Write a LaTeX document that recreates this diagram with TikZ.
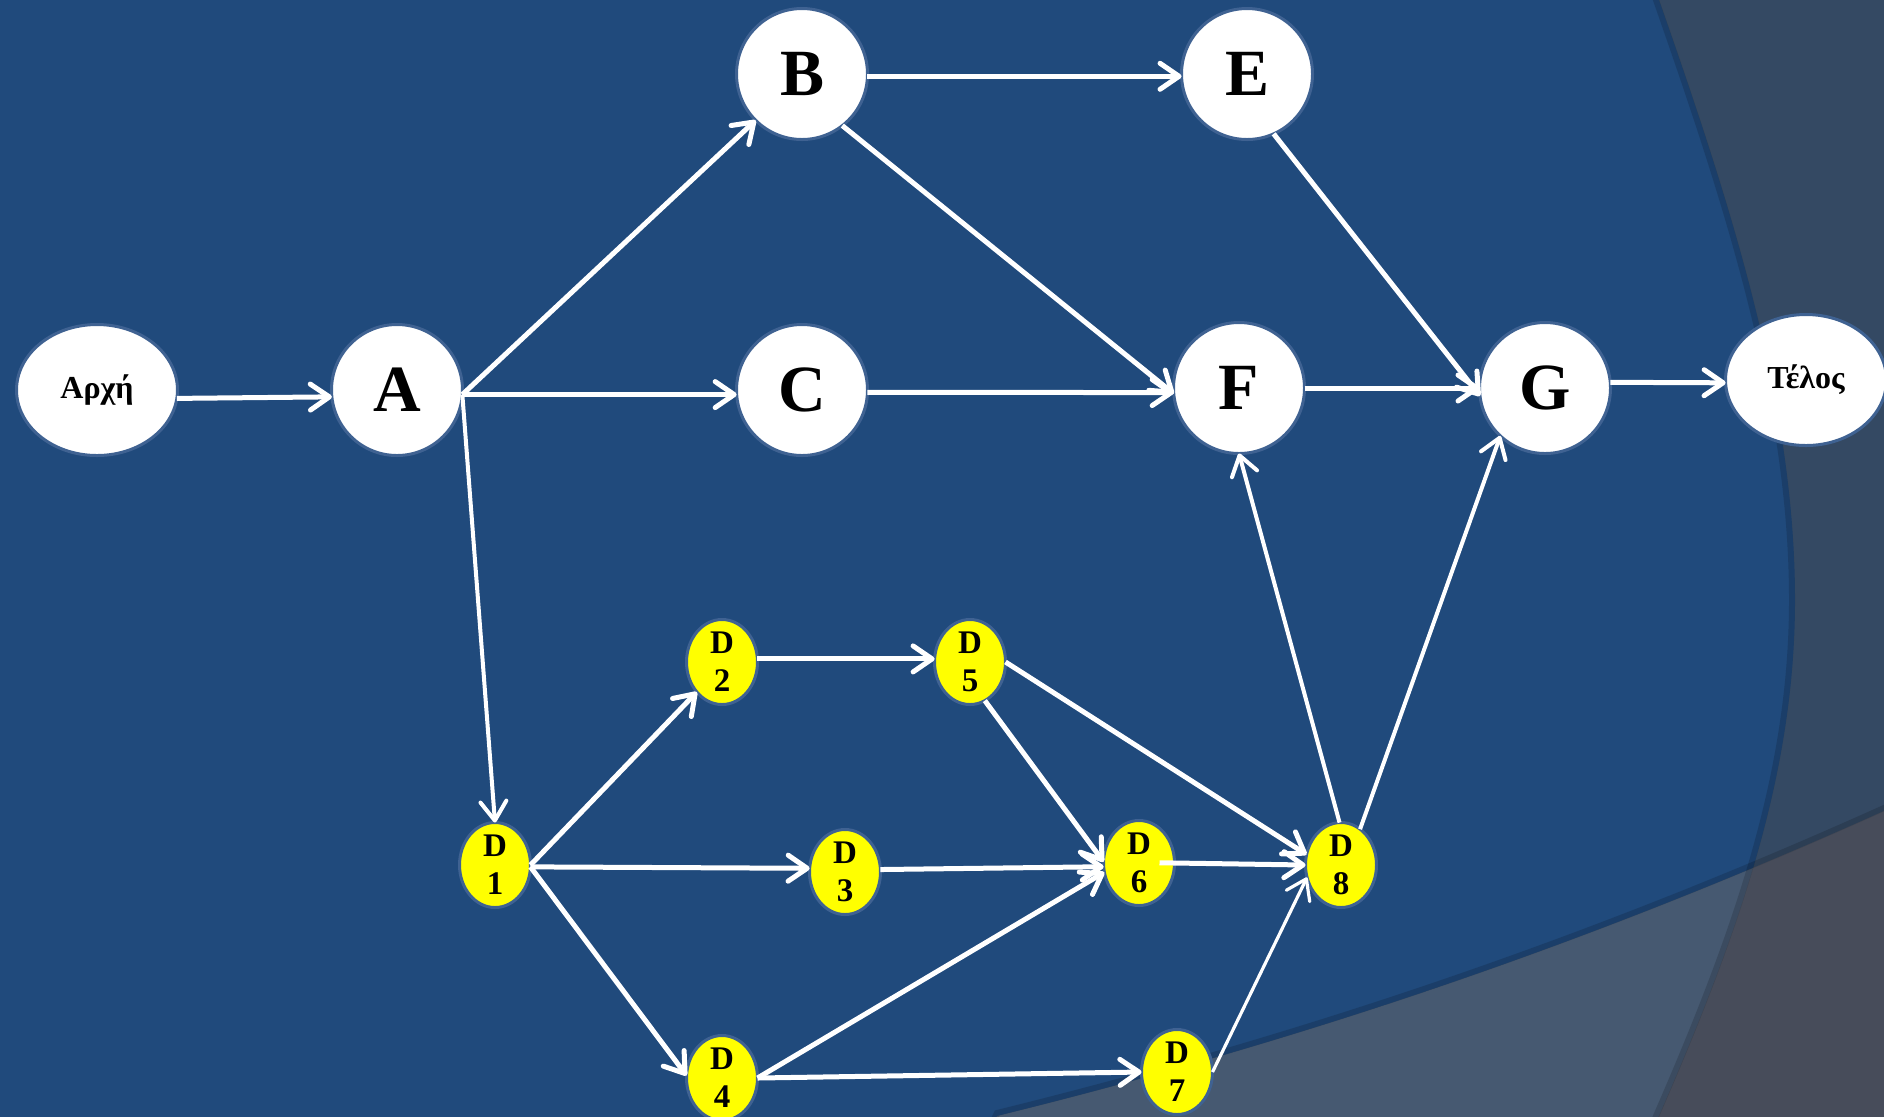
\documentclass[tikz,border=0pt]{standalone}
\usepackage{fontspec}
\setmainfont{Liberation Serif}
\usetikzlibrary{arrows.meta,shapes.geometric}
\definecolor{bgblue}{HTML}{204A7C}
\definecolor{rightc}{HTML}{344963}
\definecolor{lowc}{HTML}{465971}
\definecolor{cornerc}{HTML}{474C5A}
\definecolor{ringc}{HTML}{3F6292}
\definecolor{dyellow}{HTML}{FFFF00}
\tikzset{
  bignode/.style={circle, fill=white, draw=ringc, line width=1.5pt, minimum size=65.5pt, inner sep=0pt, outer sep=0pt,
    font=\bfseries\fontsize{33}{38}\selectfont},
  endnode/.style={ellipse, fill=white, draw=ringc, line width=1.5pt, minimum width=80.5pt, minimum height=65.5pt, inner sep=0pt, outer sep=0pt,
    font=\bfseries\fontsize{16}{18}\selectfont},
  dnode/.style={ellipse, fill=dyellow, draw=ringc, line width=1.5pt, minimum width=35.5pt, minimum height=42.5pt, inner sep=0pt, outer sep=0pt,
    align=center, font=\bfseries\fontsize{16.5}{19}\selectfont},
  arr/.style={draw=white, line width=2.5pt, -{Straight Barb[length=9.5pt,width=13pt,round]}},
  arrthin/.style={draw=white, line width=2pt, -{Straight Barb[length=9.5pt,width=13pt,round]}},
  arrthinner/.style={draw=white, line width=1.6pt, -{Straight Barb[length=9.5pt,width=13pt,round]}},
  fringe/.style={draw=black, opacity=0.15, line width=3pt}
}
\begin{document}
\begin{tikzpicture}[x=0.5pt,y=-0.5pt]
\useasboundingbox (0,0) rectangle (1884,1116);
\clip (0,0) rectangle (1884,1116);
% background
\fill[bgblue] (-10,-10) rectangle (1900,1130);
\fill[rightc] (1900,-10) -- (1655,-10) -- (1659,0) .. controls (1729,200) and (1795,400) .. (1795,600) .. controls (1795,770) and (1742,926) .. (1659,1116) -- (1655,1126) -- (1900,1126) -- cycle;
\fill[lowc] (990,1130) -- (997,1116) .. controls (1297,1042) and (1584,946) .. (1884,811) -- (1905,802) -- (1905,1130) -- cycle;
\begin{scope}
  \clip (1900,-10) -- (1655,-10) -- (1659,0) .. controls (1729,200) and (1795,400) .. (1795,600) .. controls (1795,770) and (1742,926) .. (1659,1116) -- (1655,1126) -- (1900,1126) -- cycle;
  \fill[cornerc] (990,1130) -- (997,1116) .. controls (1297,1042) and (1584,946) .. (1884,811) -- (1905,802) -- (1905,1130) -- cycle;
\end{scope}
\draw[fringe, xshift=-1.5pt] (1655,-10) -- (1659,0) .. controls (1729,200) and (1795,400) .. (1795,600) .. controls (1795,770) and (1742,926) .. (1659,1116) -- (1655,1126);
\draw[fringe, yshift=1.5pt] (990,1130) -- (997,1116) .. controls (1297,1042) and (1584,946) .. (1884,811) -- (1905,802);
% nodes
\node[endnode] (Arxi) at (97,390) {Αρχή};
\node[bignode] (A) at (397,390) {A};
\node[bignode] (B) at (802,74) {B};
\node[bignode] (C) at (802,390) {C};
\node[bignode] (E) at (1247,74) {E};
\node[bignode] (F) at (1239,388) {F};
\node[bignode] (G) at (1545,388) {G};
\node[endnode] (Telos) at (1806,380) {Τέλος};
\node[dnode] (D1) at (495,865) {D\\1};
\node[dnode] (D2) at (722,662) {D\\2};
\node[dnode] (D3) at (845,872) {D\\3};
\node[dnode] (D4) at (722,1078) {D\\4};
\node[dnode] (D5) at (970,662) {D\\5};
\node[dnode] (D6) at (1139,863) {D\\6};
\node[dnode] (D7) at (1177,1072) {D\\7};
\node[dnode] (D8) at (1341,865) {D\\8};
% edges
\draw[arr] (Arxi.-6) -- (A.186);
\draw[arr] (A.-4) -- (B.225);
\draw[arr] (A.-4) -- (C.184);
\draw[arrthin] (A.-4) -- (D1.north);
\draw[arr] (B.-2) -- (E.182);
\draw[arr] (B.-52) -- (F.185);
\draw[arr] (C.-2) -- (F.184);
\draw[arr] (E.-66) -- (G.187);
\draw[arr] (F.0) -- (G.180);
\draw[arr] (G.5) -- (Telos.182);
\draw[arrthin] (D8.92) -- (F.south);
\draw[arrthin] (D8.62) -- (G.227);
\draw[arr] (D1.0) -- (D2.230);
\draw[arr] (D1.-3) -- (D3.174);
\draw[arr] (D1.-3) -- (D4.176);
\draw[arr] (D2.5) -- (D5.175);
\draw[arr] (D3.4) -- (D6.186);
\draw[arr] (D4.0) -- (D6.195);
\draw[arr] (D4.0) -- (D7.180);
\draw[arr] (D5.-69) -- (D6.178);
\draw[arr] (D5.0) -- (D8.163);
\draw[arr, shorten <=-7.5pt] (D6.east) -- (D8.180);
\draw[arrthinner] (D7.0) -- (D8.200);
\end{tikzpicture}
\end{document}
